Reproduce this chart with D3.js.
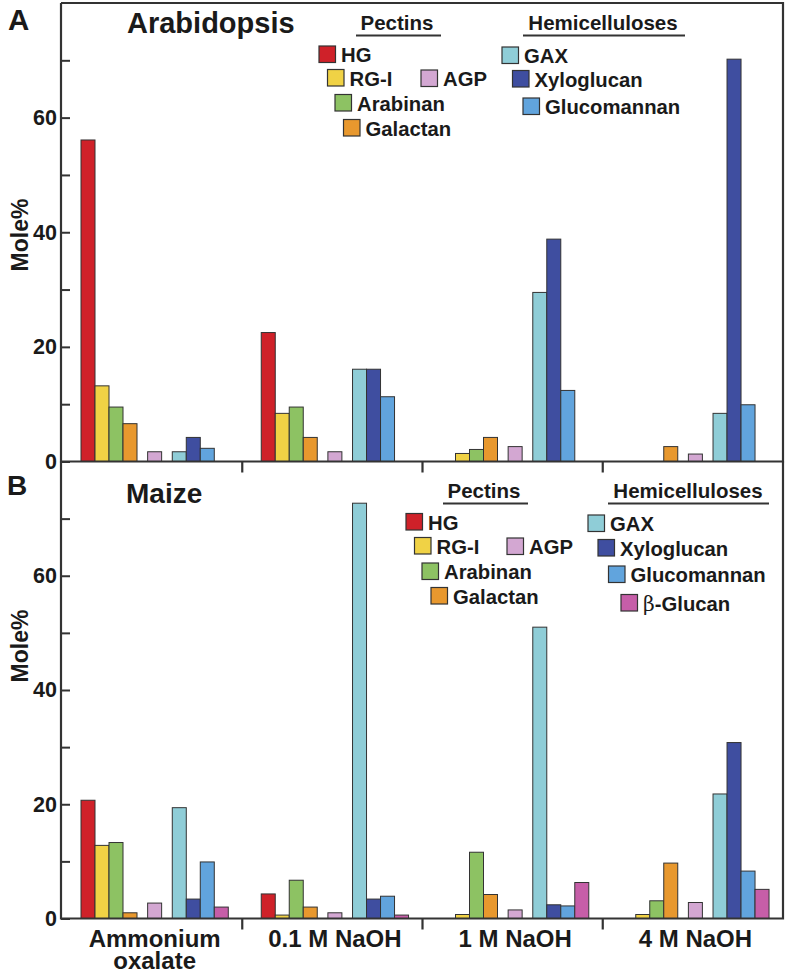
<!DOCTYPE html>
<html><head><meta charset="utf-8">
<script src="https://cdn.jsdelivr.net/npm/d3@7"></script>
<style>
body{margin:0;background:#fff}
svg{display:block}
text{font-family:"Liberation Sans",Arial,Helvetica,sans-serif;font-weight:bold;fill:#1a1a1a}
</style>
</head><body>
<svg id="chart" width="789" height="973"></svg>
<script>
// ---------- DATA ----------
const categories = ["Ammonium oxalate", "0.1 M NaOH", "1 M NaOH", "4 M NaOH"];
const categoryLines = [["Ammonium", "oxalate"], ["0.1 M NaOH"], ["1 M NaOH"], ["4 M NaOH"]];

const pectinSeries = ["HG", "RG-I", "Arabinan", "Galactan"];
const agpSeries = ["AGP"];
const hemiSeries = ["GAX", "Xyloglucan", "Glucomannan", "β-Glucan"];

const yTickValues = [0, 10, 20, 30, 40, 50, 60, 70];
const yTickLabels = ["0", "", "20", "", "40", "", "60", ""];

// Arabidopsis (Mole%)
const arabHG          = [56.1, 22.5, 0, 0];
const arabRGI         = [13.2, 8.4, 1.4, 0];
const arabArabinan    = [9.5, 9.5, 2.1, 0];
const arabGalactan    = [6.6, 4.2, 4.2, 2.6];
const arabAGP         = [1.7, 1.7, 2.6, 1.3];
const arabGAX         = [1.7, 16.1, 29.5, 8.4];
const arabXyloglucan  = [4.2, 16.1, 38.8, 70.2];
const arabGlucomannan = [2.3, 11.3, 12.4, 9.9];

// Maize (Mole%)
const maizeHG          = [20.7, 4.3, 0, 0];
const maizeRGI         = [12.8, 0.6, 0.7, 0.7];
const maizeArabinan    = [13.3, 6.7, 11.6, 3.1];
const maizeGalactan    = [1.0, 2.0, 4.2, 9.7];
const maizeAGP         = [2.7, 1.0, 1.5, 2.8];
const maizeGAX         = [19.4, 72.7, 51.0, 21.8];
const maizeXyloglucan  = [3.4, 3.4, 2.4, 30.8];
const maizeGlucomannan = [9.9, 3.9, 2.2, 8.3];
const maizeBetaGlucan  = [2.0, 0.6, 6.3, 5.1];

// ---------- STYLE ----------
const colors = {
  "HG": "#cf2129", "RG-I": "#f0d245", "Arabinan": "#8dc263", "Galactan": "#e8982e",
  "AGP": "#d3a7d2", "GAX": "#8fcdd7", "Xyloglucan": "#3f4ea0", "Glucomannan": "#61a4dd",
  "β-Glucan": "#c65ea8"
};
const ink = "#1a1a1a", axisCol = "#333333";

const arabData = {
  "HG": arabHG, "RG-I": arabRGI, "Arabinan": arabArabinan, "Galactan": arabGalactan,
  "AGP": arabAGP, "GAX": arabGAX, "Xyloglucan": arabXyloglucan, "Glucomannan": arabGlucomannan
};
const maizeData = {
  "HG": maizeHG, "RG-I": maizeRGI, "Arabinan": maizeArabinan, "Galactan": maizeGalactan,
  "AGP": maizeAGP, "GAX": maizeGAX, "Xyloglucan": maizeXyloglucan, "Glucomannan": maizeGlucomannan,
  "β-Glucan": maizeBetaGlucan
};

// slot positions inside a group: family gaps between pectins / AGP / hemicelluloses
const families = [pectinSeries, agpSeries, hemiSeries];
const familyGap = 0.76;
const slotOf = {};
{
  let n = 0;
  families.forEach((fam, fi) => fam.forEach(s => { slotOf[s] = n + fi * familyGap; n++; }));
}

const svg = d3.select("#chart");
const plotLeft = 61, plotRight = 783, bandLeft = 62;
const x0 = d3.scaleBand().domain(categories).range([bandLeft, plotRight]);
const groupOffset = 19;
const xSlot = d3.scaleLinear().domain([0, 1]).range([0, 14]);
const barW = xSlot(1) - xSlot(0);

function drawPanel(opts) {
  const {data, yBottom, yTop, boxTop, label, labelPos, title, titlePos, moleY} = opts;
  const y = d3.scaleLinear().domain([0, 80]).range([yBottom, yTop]);
  const g = svg.append("g");

  const series = Object.keys(data);
  const bars = [];
  series.forEach(s => data[s].forEach((v, ci) => { if (v > 0) bars.push({s, ci, v}); }));
  g.selectAll("rect.bar").data(bars).join("rect")
    .attr("class", "bar")
    .attr("x", d => x0(categories[d.ci]) + groupOffset + xSlot(slotOf[d.s]))
    .attr("y", d => y(d.v))
    .attr("width", barW)
    .attr("height", d => y(0) - y(d.v))
    .attr("fill", d => colors[d.s])
    .attr("stroke", "#333").attr("stroke-width", 1);

  // axis
  const ax = d3.axisLeft(y).tickValues(yTickValues).tickSize(-9).tickPadding(4)
    .tickFormat((d, i) => yTickLabels[i]);
  const ag = g.append("g").attr("transform", `translate(${plotLeft},0)`).call(ax);
  ag.select(".domain").remove();
  ag.selectAll(".tick line").attr("stroke", axisCol).attr("stroke-width", 2);
  ag.selectAll(".tick text").attr("font-size", 21.5).attr("fill", ink)
    .style("font-family", '"Liberation Sans",Arial,sans-serif').style("font-weight", "bold");

  // frame
  let p = `M${plotLeft},${boxTop} V${yBottom} H${plotRight} V${boxTop}`;
  if (opts.closeTop) p += ` H${plotLeft}`;
  g.append("path").attr("d", p).attr("fill", "none").attr("stroke", axisCol)
    .attr("stroke-width", 2.2).attr("stroke-linejoin", "miter");

  // category separator ticks
  g.selectAll("line.sep").data(categories.slice(1)).join("line")
    .attr("x1", d => x0(d)).attr("x2", d => x0(d))
    .attr("y1", yBottom).attr("y2", yBottom + 11)
    .attr("stroke", axisCol).attr("stroke-width", 2.2);

  g.append("text").attr("x", labelPos[0]).attr("y", labelPos[1])
    .attr("font-size", opts.labelSize).text(label);
  g.append("text").attr("x", titlePos[0]).attr("y", titlePos[1])
    .attr("font-size", opts.titleSize).text(title);
  g.append("text").attr("transform", `translate(28,${moleY}) rotate(-90)`)
    .attr("text-anchor", "middle").attr("font-size", 23).text("Mole%");
  return y;
}

drawPanel({data: arabData, yBottom: 461.5, yTop: 3, boxTop: 3, closeTop: true,
  label: "A", labelPos: [8, 30], labelSize: 29.5, title: "Arabidopsis", titlePos: [127, 33],
  titleSize: 29, moleY: 235});
drawPanel({data: maizeData, yBottom: 918.5, yTop: 461.5, boxTop: 461.5, closeTop: false,
  label: "B", labelPos: [7, 495], labelSize: 28, title: "Maize", titlePos: [126, 503],
  titleSize: 28, moleY: 646});

// category labels
const lastSlot = slotOf["β-Glucan"] + 1;
const catG = svg.append("g");
categoryLines.forEach((lines, ci) => {
  const cx = x0(categories[ci]) + groupOffset + xSlot(lastSlot) / 2;
  const t = catG.append("text").attr("text-anchor", "middle").attr("font-size", 24)
    .attr("x", cx).attr("y", 947);
  lines.forEach((ln, li) => t.append("tspan").attr("x", cx).attr("dy", li === 0 ? 0 : 22).text(ln));
});

// legends
function legend(headers, items) {
  const lg = svg.append("g");
  headers.forEach(h => {
    lg.append("text").attr("x", h.cx).attr("y", h.y).attr("text-anchor", "middle")
      .attr("font-size", 20.5).text(h.text);
    lg.append("line").attr("x1", h.x1).attr("x2", h.x2).attr("y1", h.y + 5.5).attr("y2", h.y + 5.5)
      .attr("stroke", "#333").attr("stroke-width", 1.8);
  });
  items.forEach(it => {
    lg.append("rect").attr("x", it.x).attr("y", it.y).attr("width", 16.5).attr("height", 16.5)
      .attr("fill", colors[it.s]).attr("stroke", "#333").attr("stroke-width", 1.2);
    const t = lg.append("text").attr("x", it.x + 22).attr("y", it.y + 16).attr("font-size", 20.3);
    if (it.s === "β-Glucan") {
      t.append("tspan").style("font-family", '"DejaVu Serif","Liberation Serif",serif')
        .style("font-weight", "normal").text("β");
      t.append("tspan").text("-Glucan");
    } else t.text(it.s);
  });
}

legend(
  [{text: "Pectins", cx: 397, y: 30, x1: 356, x2: 441},
   {text: "Hemicelluloses", cx: 603, y: 30, x1: 523, x2: 685}],
  [{s: "HG", x: 319, y: 46}, {s: "RG-I", x: 327.5, y: 69.5}, {s: "Arabinan", x: 335, y: 94.5},
   {s: "Galactan", x: 343.5, y: 119.5}, {s: "AGP", x: 421, y: 70},
   {s: "GAX", x: 502, y: 47}, {s: "Xyloglucan", x: 512.5, y: 70.5}, {s: "Glucomannan", x: 523, y: 98}]
);
legend(
  [{text: "Pectins", cx: 484, y: 498, x1: 443, x2: 528},
   {text: "Hemicelluloses", cx: 688, y: 498, x1: 608, x2: 769}],
  [{s: "HG", x: 406, y: 513.5}, {s: "RG-I", x: 414.5, y: 537.5}, {s: "Arabinan", x: 422, y: 563},
   {s: "Galactan", x: 431, y: 587.5}, {s: "AGP", x: 507, y: 538},
   {s: "GAX", x: 588, y: 515}, {s: "Xyloglucan", x: 598, y: 539.5}, {s: "Glucomannan", x: 608.5, y: 566},
   {s: "β-Glucan", x: 621, y: 594.5}]
);
</script>
</body></html>
